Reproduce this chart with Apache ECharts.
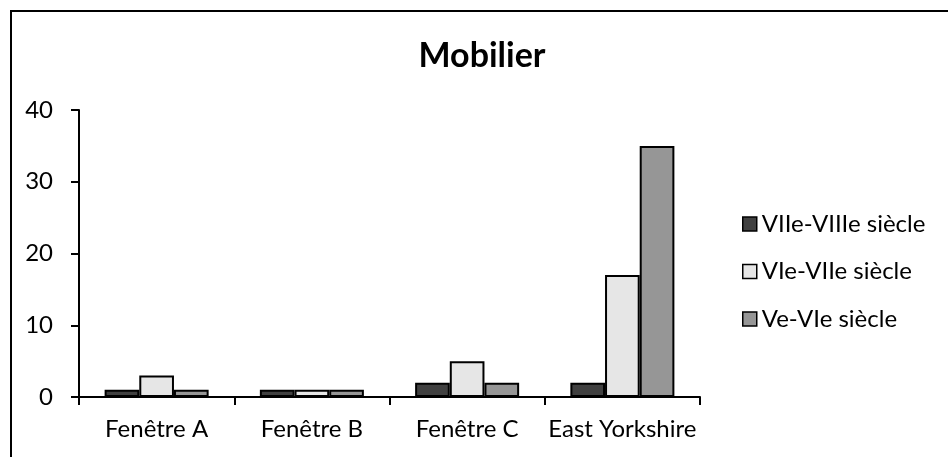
<!DOCTYPE html>
<html>
<head>
<meta charset="utf-8">
<script src="https://cdn.jsdelivr.net/npm/echarts@6/dist/echarts.min.js"></script>
<style>
  html, body { margin: 0; padding: 0; background: #fff; }
  #chart { width: 948px; height: 457px; }
</style>
</head>
<body>
<div id="chart"></div>
<script>
// Mobilier counts by window and period
const categories = ['Fenêtre A', 'Fenêtre B', 'Fenêtre C', 'East Yorkshire'];
const seriesNames = ['VIIe-VIIIe siècle', 'VIe-VIIe siècle', 'Ve-VIe siècle'];
const vii_viii = [1, 1, 2, 2];
const vi_vii = [3, 1, 5, 17];
const v_vi = [1, 1, 2, 35];
const yTicks = [0, 10, 20, 30, 40];

const FONT = 'Lato';
const colors = ['#404040', '#e6e6e6', '#969696'];
const values = [vii_viii, vi_vii, v_vi];

const chart = echarts.init(document.getElementById('chart'), null, { renderer: 'canvas' });

chart.setOption({
  animation: false,
  backgroundColor: '#fff',
  title: {
    text: 'Mobilier',
    left: 482,
    top: 39,
    padding: 0,
    textAlign: 'center',
    textStyle: { fontFamily: FONT, fontWeight: 'bold', fontSize: 34, color: '#000' }
  },
  graphic: [{
    type: 'rect',
    shape: { x: 11, y: 11, width: 1200, height: 1200 },
    style: { fill: 'none', stroke: '#000', lineWidth: 2 },
    silent: true
  }],
  legend: {
    orient: 'vertical',
    left: 737,
    top: 207,
    itemWidth: 14,
    itemHeight: 14,
    itemGap: 23.5,
    icon: 'rect',
    itemStyle: { borderColor: '#000', borderWidth: 1.5 },
    textStyle: { fontFamily: FONT, fontSize: 24, color: '#000' },
    data: seriesNames
  },
  grid: { left: 79, right: 248, top: 110, bottom: 60, containLabel: false },
  xAxis: {
    type: 'category',
    data: categories,
    axisLine: { lineStyle: { color: '#000', width: 2 } },
    axisTick: { show: true, length: 8, lineStyle: { color: '#000', width: 2 } },
    axisLabel: { fontFamily: FONT, fontSize: 24, color: '#000', margin: 20, interval: 0 }
  },
  yAxis: {
    type: 'value',
    min: yTicks[0],
    max: yTicks[yTicks.length - 1],
    interval: yTicks[1] - yTicks[0],
    splitLine: { show: false },
    axisLine: { show: true, lineStyle: { color: '#000', width: 2 } },
    axisTick: { show: true, length: 8, lineStyle: { color: '#000', width: 2 } },
    axisLabel: { fontFamily: FONT, fontSize: 24, color: '#000', margin: 26 }
  },
  series: seriesNames.map((name, i) => ({
    name,
    type: 'bar',
    data: values[i],
    barGap: '0%',
    barCategoryGap: '33%',
    itemStyle: { color: colors[i], borderColor: '#000', borderWidth: 2 }
  }))
});
</script>
</body>
</html>
